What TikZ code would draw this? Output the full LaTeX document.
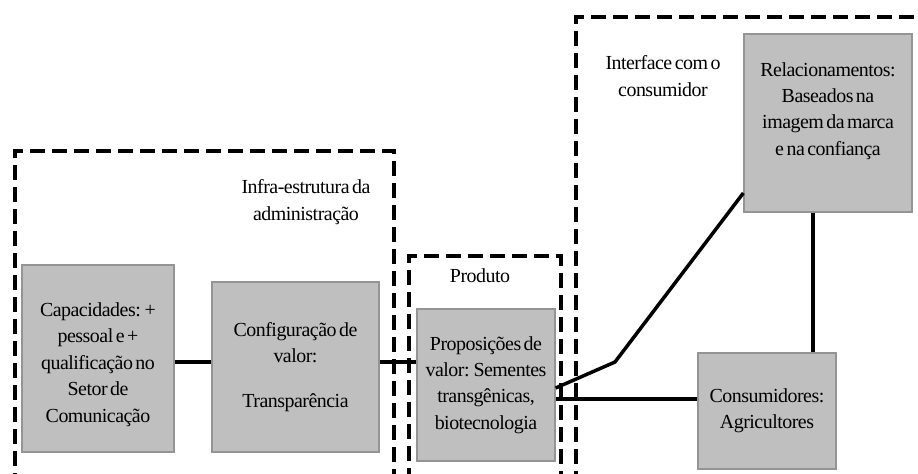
\documentclass[tikz,border=0pt]{standalone}
\usepackage{fontspec}
\setmainfont[WordSpace=0.55, LetterSpace=-2.5]{Liberation Serif}
\usetikzlibrary{calc}
\begin{document}
\begin{tikzpicture}[x=1bp,y=-1bp,
  every node/.style={font=\fontsize{20}{26.5}\selectfont, align=center, inner sep=0pt},
  box/.style 2 args={draw=black!42, line width=1.3bp, fill=black!25,
    minimum width=#1, minimum height=#2},
  boxtext/.style={font=\fontsize{20}{26.5}\selectfont, align=center, inner sep=0pt},
  group/.style={draw=black, line width=4bp, dash pattern=on 15bp off 7bp, dash phase=#1},
  link/.style={draw=black, line width=3.5bp}
]
\clip (0,0) rectangle (918,474);

% dashed groupings
\draw[group=20bp] (15,490) -- (15,151) -- (394,151) -- (394,490);
\draw[group=15bp] (409,490) -- (409,256) -- (561,256) -- (561,490);
\draw[group=18bp] (576,490) -- (576,17) -- (940,17);

% group captions
\node (infra) at (306,202) {Infra-estrutura da\\administração};
\node (produto) at (480,276) {Produto};
\node (interface) at (663,76) {Interface com o\\consumidor};

% building blocks
\node[box={152bp}{187bp}, label={[boxtext, yshift=-6bp]center:Capacidades: +\\pessoal e +\\qualificação no\\Setor de\\Comunicação}] (cap) at (98,358.5) {};
\node[box={167bp}{170bp}] (conf) at (295.5,367) {Configuração de\\valor:\\[18bp]Transparência};
\node[box={138bp}{152bp}] (prop) at (486,385) {Proposições de\\valor: Sementes\\transgênicas,\\biotecnologia};
\node[box={138bp}{116bp}] (cons) at (767,411) {Consumidores:\\Agricultores};
\node[box={168bp}{178bp}, label={[boxtext, yshift=12bp]center:Relacionamentos:\\Baseados na\\imagem da marca\\e na confiança}] (rel) at (828,123) {};

% connection heights
\coordinate (r1) at (0,362);
\coordinate (r2) at (0,399);
\coordinate (r3) at (0,388);
\coordinate (r4) at (0,193);
\coordinate (c1) at (813,0);
\coordinate (kink) at (615,362);

% connectors
\draw[link] (cap.east |- r1) -- (conf.west |- r1);
\draw[link] (conf.east |- r1) -- (prop.west |- r1);
\draw[link] (prop.east |- r2) -- (cons.west |- r2);
\draw[link] (prop.east |- r3) -- (kink) -- (rel.west |- r4);
\draw[link] (rel.south -| c1) -- (cons.north -| c1);
\end{tikzpicture}
\end{document}
